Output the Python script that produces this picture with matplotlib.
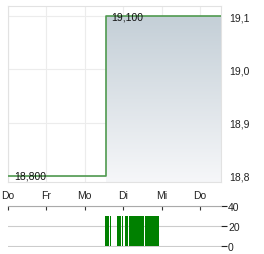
import numpy as np
import matplotlib.pyplot as plt
from matplotlib.colors import LinearSegmentedColormap

plt.rcParams['font.family'] = ['Liberation Sans', 'DejaVu Sans']

days = ['Do', 'Fr', 'Mo', 'Di', 'Mi', 'Do']
price_t = [0.0, 2.54, 2.54, 5.55]
price = [18.8, 18.8, 19.1, 19.1]
price_ticks = [18.8, 18.9, 19.0, 19.1]
price_labels = ['18,8', '18,9', '19,0', '19,1']

vol_start = [2.526, 2.656, 2.839, 2.977, 3.047, 3.151, 3.568]
vol_width = [0.104, 0.026, 0.104, 0.026, 0.078, 0.391, 0.364]
vol_height = [30, 30, 30, 30, 30, 30, 30]
vol_ticks = [0, 20, 40]

W, H = 264, 255
fig = plt.figure(figsize=(W / 100, H / 100), dpi=100)
xmax = 5.547

# price panel
ax = fig.add_axes([8 / W, 1 - 183 / H, 213 / W, 176 / H])
ymin, ymax = 18.7887, 19.1188
ax.set_xlim(0, xmax)
ax.set_ylim(ymin, ymax)

grad = np.linspace(0, 1, 256).reshape(-1, 1)
cmap = LinearSegmentedColormap.from_list('g', ['#c4cfd7', '#f6f7f9'])
ax.imshow(grad, extent=[price_t[1], price_t[-1], ymin, price[-1]],
          aspect='auto', cmap=cmap, origin='upper', zorder=1)

ax.plot(price_t, price, color='#4f9a4f', lw=1.2, zorder=3)

ax.set_xticks(range(len(days)))
ax.set_xticklabels(days)
ax.set_yticks(price_ticks)
ax.set_yticklabels(price_labels)
ax.yaxis.tick_right()
ax.tick_params(axis='both', length=0, labelsize=7.5, colors='#222222')
ax.tick_params(axis='y', pad=6)
ax.tick_params(axis='x', pad=6)
ax.grid(True, color='#ececec', lw=0.8, zorder=0)
ax.set_axisbelow(True)
for s in ax.spines.values():
    s.set_color('#e2e2e2')

ax.text(0.17, price[0], '18,800', fontsize=7.5, color='#111111', va='center', ha='left', zorder=4)
ax.text(2.68, price[-1], '19,100', fontsize=7.5, color='#111111', va='center', ha='left', zorder=4)

# volume panel
vx = fig.add_axes([8 / W, 1 - 248 / H, 213 / W, 41 / H])
vx.set_xlim(0, xmax)
vx.set_ylim(-1, 40)
vx.bar(vol_start, vol_height, width=vol_width, align='edge', color='#008000', zorder=3)
vx.set_yticks(vol_ticks)
vx.set_yticklabels([str(v) for v in vol_ticks])
vx.yaxis.tick_right()
vx.tick_params(axis='y', length=4, width=0.8, labelsize=7.5, colors='#222222', pad=1)
vx.set_xticks(range(len(days)))
vx.xaxis.tick_top()
vx.tick_params(axis='x', direction='in', length=3, width=0.8, color='#333333', labeltop=False)
vx.grid(True, axis='y', color='#cccccc', lw=0.8, zorder=0)
for k in ['left', 'right', 'bottom']:
    vx.spines[k].set_visible(False)
vx.spines['top'].set_color('#aaaaaa')

fig.savefig('out.png', dpi=100)
